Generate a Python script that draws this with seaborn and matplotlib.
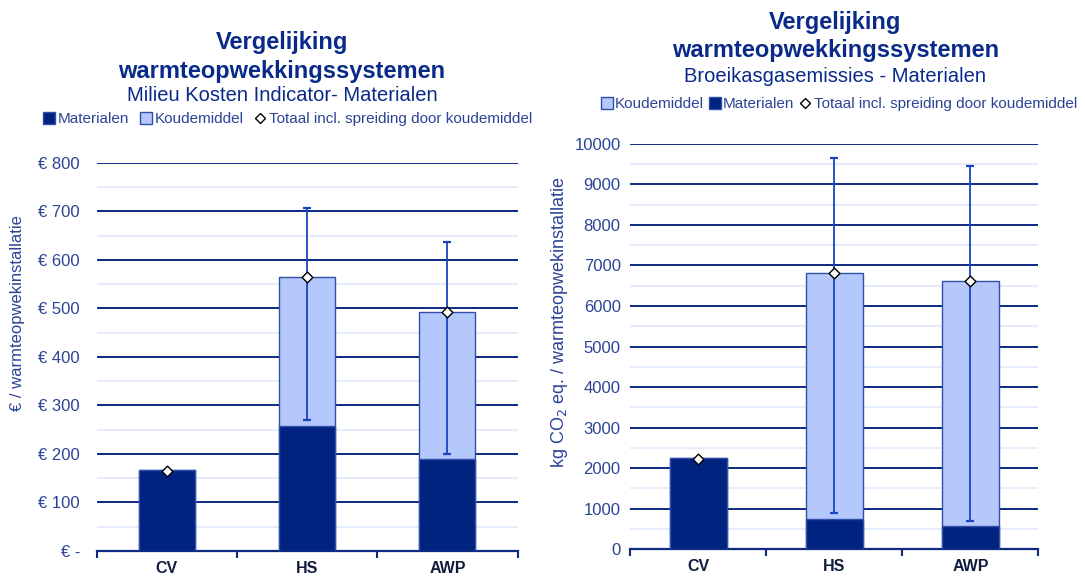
import matplotlib
matplotlib.use("Agg")
import matplotlib.pyplot as plt
import seaborn as sns
import pandas as pd
from matplotlib.lines import Line2D
from matplotlib.patches import Patch
from matplotlib.ticker import MultipleLocator, FuncFormatter

categories = ["CV", "HS", "AWP"]

# Milieu Kosten Indicator (euro)
mki_materialen = [167, 258, 190]
mki_koudemiddel = [0, 307, 303]
mki_totaal = [165, 565, 493]
mki_laag = [None, 270, 200]
mki_hoog = [None, 708, 638]

# Broeikasgasemissies (kg CO2 eq.)
co2_materialen = [2250, 750, 580]
co2_koudemiddel = [0, 6070, 6040]
co2_totaal = [2230, 6820, 6620]
co2_laag = [None, 900, 700]
co2_hoog = [None, 9650, 9450]

sns.set_theme(style="white")
plt.rcParams["font.family"] = ["Liberation Sans", "DejaVu Sans"]

DARK = "#00237f"
LIGHT = "#b4c8fb"
EDGE = "#2f4fa8"
TXT = "#2b4396"
TITLE = "#0a2a8a"
ERR = "#1a45c0"

fig = plt.figure(figsize=(10.85, 5.78), dpi=100)
ax1 = fig.add_axes([0.089, 0.047, 0.388, 0.671])
ax2 = fig.add_axes([0.581, 0.050, 0.376, 0.701])


def draw(ax, mat, koud, tot, lo, hi, ymax, major, minor, bw, ypad):
    df = pd.DataFrame({"cat": categories,
                       "mat": mat,
                       "sum": [m + k for m, k in zip(mat, koud)]})
    ax.set_ylim(0, ymax)
    ax.yaxis.set_major_locator(MultipleLocator(major))
    ax.yaxis.set_minor_locator(MultipleLocator(minor))
    ax.grid(axis="y", which="minor", color="#e6ecfb", lw=1.5, zorder=0)
    ax.grid(axis="y", which="major", color="#0d2a80", lw=1.4, zorder=0)
    ax.set_axisbelow(True)
    sns.barplot(data=df, x="cat", y="sum", color=LIGHT, saturation=1,
                width=bw, edgecolor=EDGE, linewidth=1, ax=ax, zorder=2)
    sns.barplot(data=df, x="cat", y="mat", color=DARK, saturation=1,
                width=bw, edgecolor=EDGE, linewidth=1, ax=ax, zorder=3)
    for i in range(len(categories)):
        if lo[i] is not None:
            ax.errorbar([i], [tot[i]], yerr=[[tot[i] - lo[i]], [hi[i] - tot[i]]],
                        fmt="none", ecolor=ERR, elinewidth=1.3, capsize=3,
                        capthick=1.6, zorder=4)
    ax.scatter(range(len(categories)), tot, marker="D", s=30, facecolor="white",
               edgecolor="black", linewidth=1, zorder=5)
    ax.set_xlim(-0.5, 2.5)
    for s in ["top", "right", "left"]:
        ax.spines[s].set_visible(False)
    ax.spines["bottom"].set_color("#0d2a80")
    ax.spines["bottom"].set_linewidth(1.6)
    ax.set_xticks([0, 1, 2])
    ax.set_xticks([-0.5, 0.5, 1.5, 2.5], minor=True)
    ax.tick_params(axis="x", which="major", length=0, pad=7,
                   labelsize=11.5, labelcolor="#111c3e")
    ax.tick_params(axis="x", which="minor", length=5, width=1.5, color="#0d2a80",
                   direction="out", bottom=True)
    for lbl in ax.get_xticklabels():
        lbl.set_fontweight("bold")
    ax.tick_params(axis="y", which="both", length=0, labelsize=12,
                   labelcolor=TXT, pad=ypad)
    ax.set_xlabel("")


draw(ax1, mki_materialen, mki_koudemiddel, mki_totaal, mki_laag, mki_hoog,
     800, 100, 50, 0.4, 12)
ax1.yaxis.set_major_formatter(FuncFormatter(lambda v, p: "€ -" if v == 0 else f"€ {v:.0f}"))
ax1.set_ylabel("€ / warmteopwekinstallatie", color=TXT, fontsize=12)
ax1.yaxis.set_label_coords(-0.171, 0.612)

draw(ax2, co2_materialen, co2_koudemiddel, co2_totaal, co2_laag, co2_hoog,
     10000, 1000, 500, 0.42, 7)
ax2.yaxis.set_major_formatter(FuncFormatter(lambda v, p: f"{v:.0f}"))
ax2.set_ylabel("kg CO$_2$ eq. / warmteopwekinstallatie", color=TXT, fontsize=13)
ax2.yaxis.set_label_coords(-0.147, 0.56)

# titles
fig.text(0.26, 0.926, "Vergelijking", ha="center", va="center", fontsize=17,
         fontweight="bold", color=TITLE)
fig.text(0.26, 0.877, "warmteopwekkingssystemen", ha="center", va="center", fontsize=17,
         fontweight="bold", color=TITLE)
fig.text(0.26, 0.834, "Milieu Kosten Indicator- Materialen", ha="center", va="center",
         fontsize=14.5, color=TITLE)
fig.text(0.77, 0.961, "Vergelijking", ha="center", va="center", fontsize=17,
         fontweight="bold", color=TITLE)
fig.text(0.77, 0.912, "warmteopwekkingssystemen", ha="center", va="center", fontsize=17,
         fontweight="bold", color=TITLE)
fig.text(0.77, 0.867, "Broeikasgasemissies - Materialen", ha="center", va="center",
         fontsize=14.5, color=TITLE)

h_mat = Patch(facecolor=DARK, edgecolor=EDGE, label="Materialen")
h_koud = Patch(facecolor=LIGHT, edgecolor=EDGE, label="Koudemiddel")
h_tot = Line2D([], [], marker="D", ls="none", markersize=5, markerfacecolor="white",
               markeredgecolor="black", label="Totaal incl. spreiding door koudemiddel")
leg_kw = dict(loc="center", ncol=3, frameon=False, fontsize=11, handlelength=0.8,
              handleheight=0.8, handletextpad=0.15, columnspacing=0.7, labelcolor=TXT)
fig.legend(handles=[h_mat, h_koud, h_tot], bbox_to_anchor=(0.265, 0.794), **leg_kw)
fig.legend(handles=[h_koud, h_mat, h_tot], bbox_to_anchor=(0.773, 0.82),
           **dict(leg_kw, columnspacing=0.3))

fig.savefig("out.png", dpi=100)
